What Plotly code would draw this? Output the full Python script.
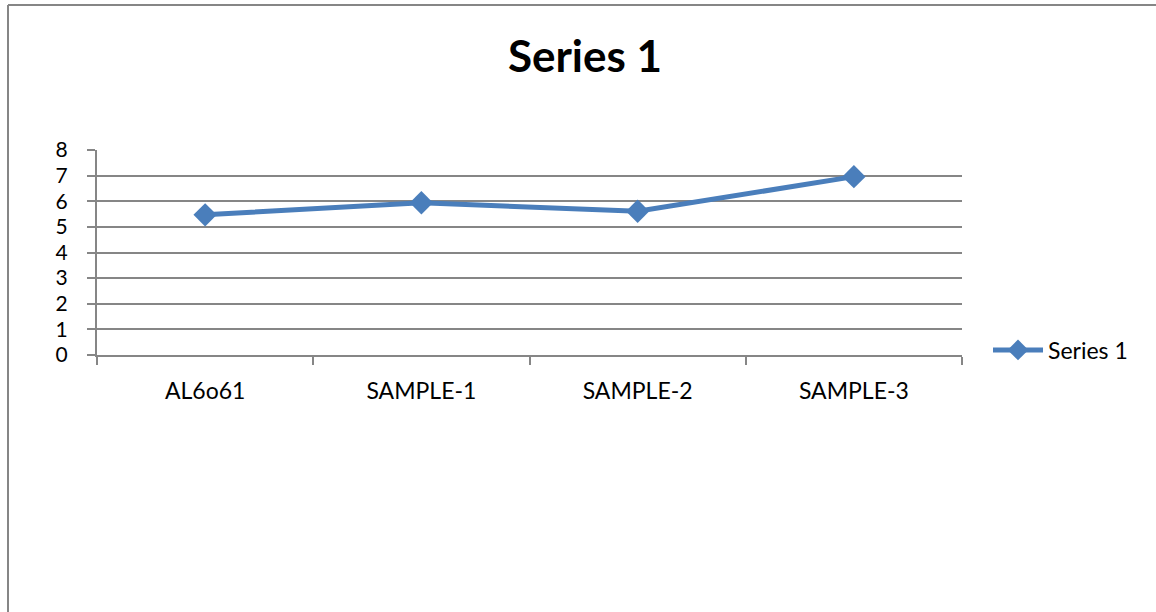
import plotly.graph_objects as go

categories = ["AL6o61", "SAMPLE-1", "SAMPLE-2", "SAMPLE-3"]
series_1 = [5.47, 5.94, 5.61, 6.96]
y_ticks = [0, 1, 2, 3, 4, 5, 6, 7, 8]

W, H = 1156, 612
L, R, T, B = 97, 194, 150, 257
FONT = "Lato, 'Noto Sans', sans-serif"
GRID = "#868686"
BLUE = "#4A7EBB"

fig = go.Figure()
fig.add_trace(go.Scatter(
    x=categories, y=series_1, name="Series 1", mode="lines+markers",
    line=dict(color=BLUE, width=5),
    marker=dict(symbol="diamond", size=18, color=BLUE),
))

pw = W - L - R
ph = H - T - B
def px_x(v):
    return (v - L) / pw
def px_y(v):
    return (H - B - v) / ph

# outer chart frame (top and left edges)
shapes = [
    dict(type="line", xref="paper", yref="paper",
         x0=px_x(8), x1=px_x(1160), y0=px_y(5), y1=px_y(5),
         line=dict(color=GRID, width=2)),
    dict(type="line", xref="paper", yref="paper",
         x0=px_x(8), x1=px_x(8), y0=px_y(5), y1=px_y(615),
         line=dict(color=GRID, width=2)),
]

fig.update_layout(
    width=W, height=H,
    margin=dict(l=L, r=R, t=T, b=B),
    paper_bgcolor="white", plot_bgcolor="white",
    title=dict(text="<b>Series 1</b>", x=(585) / W, xanchor="center",
               y=1 - 57 / H, yanchor="middle",
               font=dict(family=FONT, size=44, color="black")),
    font=dict(family=FONT, color="black"),
    showlegend=True,
    legend=dict(x=px_x(988), y=px_y(350), xanchor="left", yanchor="middle",
                font=dict(family=FONT, size=23, color="black"),
                bgcolor="rgba(0,0,0,0)", itemwidth=50),
    shapes=shapes,
    xaxis=dict(
        type="category", range=[-0.5, 3.5],
        showline=True, linecolor=GRID, linewidth=2,
        ticks="outside", tickson="boundaries", ticklen=8, tickcolor=GRID, tickwidth=2,
        showgrid=False, tickfont=dict(family=FONT, size=23, color="black"),
        ticklabelstandoff=14,
    ),
    yaxis=dict(
        range=[0, 8], tickvals=y_ticks,
        showline=True, linecolor=GRID, linewidth=2,
        ticks="outside", ticklen=8, tickcolor=GRID, tickwidth=2,
        showgrid=True, gridcolor=GRID, gridwidth=2, zeroline=False,
        tickfont=dict(family=FONT, size=21, color="black"),
        ticklabelstandoff=15,
    ),
)

fig.write_html("out.html")
